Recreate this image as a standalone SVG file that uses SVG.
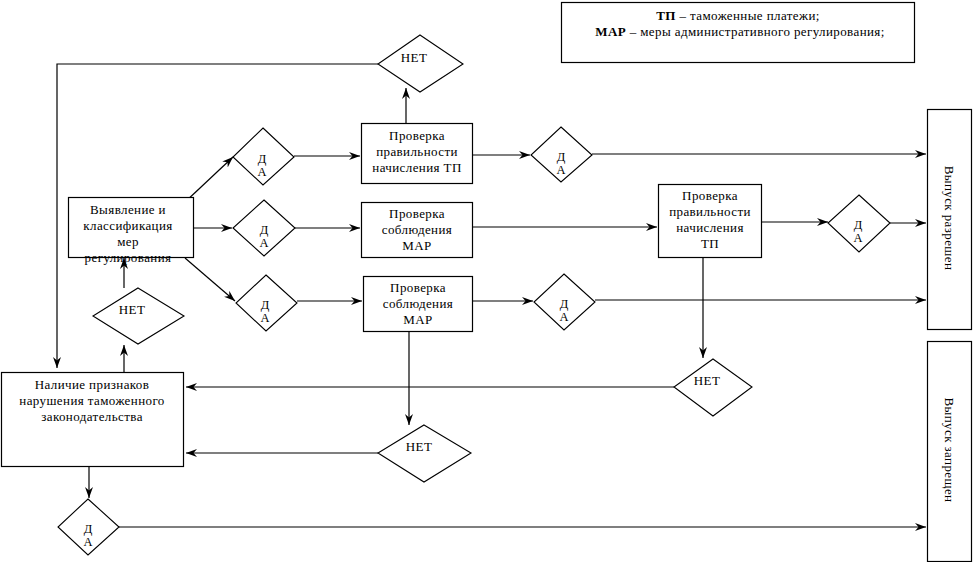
<svg xmlns="http://www.w3.org/2000/svg" width="973" height="562" viewBox="0 0 973 562">
<style>
.box{fill:#fff;stroke:#000;stroke-width:1.2}
.dia{fill:#fff;stroke:#000;stroke-width:1.1}
.t{font-family:"Liberation Serif","DejaVu Serif",serif;font-size:13px;letter-spacing:0.4px;fill:#000;text-anchor:middle}
.d{font-family:"Liberation Serif","DejaVu Serif",serif;font-size:12.5px;fill:#000;text-anchor:middle}
.c line,.c polyline{stroke:#000;stroke-width:1.2;fill:none}
.a{marker-end:url(#ar)}
</style>
<defs>
<marker id="ar" markerWidth="12" markerHeight="10" refX="11" refY="4" orient="auto" markerUnits="userSpaceOnUse">
<path d="M0,0 L11,4 L0,8 L3.5,4 z" fill="#000"/>
</marker>
</defs>
<rect width="973" height="562" fill="#fff"/>

<g id="legend">
<rect class="box" x="561.5" y="2.5" width="353" height="60"/>
<text class="t" x="738" y="20"><tspan font-weight="bold">ТП</tspan> – таможенные платежи;</text>
<text class="t" x="740" y="36"><tspan font-weight="bold">МАР</tspan> – меры административного регулирования;</text>
</g>

<g class="c" id="connectors">
<polyline points="378,64 57,64 57,368" class="a"/>
<line x1="406" y1="123" x2="406" y2="88" class="a"/>
<line x1="124" y1="372" x2="124" y2="345" class="a"/>
<line x1="124" y1="288" x2="124" y2="258" class="a"/>
<line x1="184" y1="203" x2="233" y2="157" class="a"/>
<line x1="184" y1="228" x2="232" y2="228" class="a"/>
<line x1="185" y1="258" x2="235" y2="301" class="a"/>
<line x1="294" y1="156" x2="360" y2="156" class="a"/>
<line x1="295" y1="228" x2="360" y2="228" class="a"/>
<line x1="297" y1="301" x2="362" y2="301" class="a"/>
<line x1="473" y1="155" x2="530" y2="155" class="a"/>
<line x1="592" y1="154" x2="926" y2="154" class="a"/>
<line x1="466" y1="227" x2="657" y2="227" class="a"/>
<line x1="762" y1="222" x2="828" y2="222" class="a"/>
<line x1="890" y1="223" x2="926" y2="223" class="a"/>
<line x1="473" y1="301" x2="533" y2="301" class="a"/>
<line x1="595" y1="300" x2="926" y2="300" class="a"/>
<line x1="409" y1="332" x2="409" y2="425" class="a"/>
<line x1="703" y1="257" x2="703" y2="358" class="a"/>
<line x1="674" y1="387" x2="186" y2="387" class="a"/>
<line x1="378" y1="453" x2="186" y2="453" class="a"/>
<line x1="89" y1="466" x2="89" y2="498" class="a"/>
<line x1="119" y1="527" x2="926" y2="527" class="a"/>
</g>

<g id="net-top">
<polygon class="dia" points="420,35 463,64 420,92 378,64"/>
<text class="t" x="414" y="62">НЕТ</text>
</g>

<g id="identify">
<rect class="box" x="68.5" y="197.5" width="125" height="60"/>
<text class="t" x="128" y="214">Выявление и</text>
<text class="t" x="128" y="230">классификация</text>
<text class="t" x="128" y="246">мер</text>
<text class="t" x="128" y="262">регулирования</text>
</g>

<g id="net-left">
<polygon class="dia" points="138,288 184,316 138,344 93,316"/>
<text class="t" x="132" y="314">НЕТ</text>
</g>

<g id="da1">
<polygon class="dia" points="263,128 294,157 263,185 233,157"/>
<text class="d" x="262" y="163">Д<tspan x="262" dy="13">А</tspan></text>
</g>
<g id="da2">
<polygon class="dia" points="264,200 295,228 264,256 233,228"/>
<text class="d" x="264" y="234">Д<tspan x="264" dy="13">А</tspan></text>
</g>
<g id="da3">
<polygon class="dia" points="266,275 297,303 266,331 236,303"/>
<text class="d" x="265" y="309">Д<tspan x="265" dy="13">А</tspan></text>
</g>

<g id="check-tp1">
<rect class="box" x="361.5" y="123.5" width="111" height="60"/>
<text class="t" x="417" y="140">Проверка</text>
<text class="t" x="417" y="156">правильности</text>
<text class="t" x="417" y="172">начисления ТП</text>
</g>
<g id="check-mar1">
<rect class="box" x="361.5" y="202.5" width="111" height="55"/>
<text class="t" x="417" y="218">Проверка</text>
<text class="t" x="417" y="234">соблюдения</text>
<text class="t" x="417" y="250">МАР</text>
</g>
<g id="check-mar2">
<rect class="box" x="363.5" y="276.5" width="109" height="55"/>
<text class="t" x="418" y="292">Проверка</text>
<text class="t" x="418" y="308">соблюдения</text>
<text class="t" x="418" y="324">МАР</text>
</g>

<g id="da4">
<polygon class="dia" points="561,127 592,155 561,182 531,155"/>
<text class="d" x="561" y="161">Д<tspan x="561" dy="13">А</tspan></text>
</g>
<g id="da6">
<polygon class="dia" points="564,274 595,302 564,330 534,302"/>
<text class="d" x="564" y="308">Д<tspan x="564" dy="13">А</tspan></text>
</g>

<g id="check-tp2">
<rect class="box" x="658.5" y="184.5" width="103" height="73"/>
<text class="t" x="710" y="200">Проверка</text>
<text class="t" x="710" y="216">правильности</text>
<text class="t" x="710" y="232">начисления</text>
<text class="t" x="710" y="248">ТП</text>
</g>
<g id="da5">
<polygon class="dia" points="859,195 890,223 859,252 828,223"/>
<text class="d" x="858" y="229">Д<tspan x="858" dy="13">А</tspan></text>
</g>

<g id="net-right">
<polygon class="dia" points="713,359 752,387 713,416 674,387"/>
<text class="t" x="707" y="385">НЕТ</text>
</g>
<g id="net-mid">
<polygon class="dia" points="424,425 471,453 424,482 378,453"/>
<text class="t" x="419" y="451">НЕТ</text>
</g>

<g id="violation">
<rect class="box" x="1.5" y="372.5" width="182" height="94"/>
<text class="t" x="92" y="389">Наличие признаков</text>
<text class="t" x="92" y="405">нарушения таможенного</text>
<text class="t" x="92" y="421">законодательства</text>
</g>

<g id="da7">
<polygon class="dia" points="88,499 119,527 88,555 58,527"/>
<text class="d" x="88" y="533">Д<tspan x="88" dy="13">А</tspan></text>
</g>

<g id="release-ok">
<rect class="box" x="927.5" y="109.5" width="44" height="220"/>
<text class="t" x="950" y="218" dy="0.35em" transform="rotate(90 950 218)">Выпуск разрешен</text>
</g>
<g id="release-no">
<rect class="box" x="927.5" y="341.5" width="44" height="220"/>
<text class="t" x="950" y="450" dy="0.35em" transform="rotate(90 950 450)">Выпуск запрещен</text>
</g>
</svg>
